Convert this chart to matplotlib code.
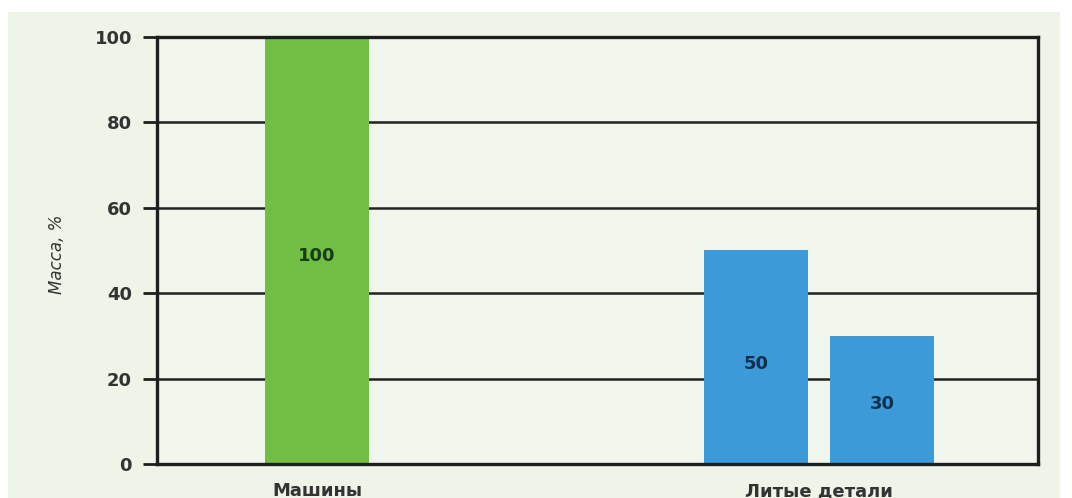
import matplotlib
matplotlib.use("Agg")
import matplotlib.pyplot as plt
from matplotlib.patches import Rectangle

# Data
categories = ["Машины", "Литые детали"]
machines = [100]
castings = [50, 30]
yticks = [0, 20, 40, 60, 80, 100]
ylabel = "Масса, %"

green = "#72bd44"
blue = "#3d9ad8"
panel_bg = "#eef5e8"
ink = "#333333"

fig = plt.figure(figsize=(10.72, 4.98), dpi=100, facecolor="white")

# light panel behind the chart
fig.patches.append(Rectangle((8 / 1072, 0), 1052 / 1072, 486 / 498,
                             transform=fig.transFigure, facecolor=panel_bg,
                             edgecolor="none", zorder=-1))

ax = fig.add_axes([157 / 1072, 34 / 498, 881 / 1072, 427 / 498])
ax.set_zorder(2)
ax.set_facecolor("#f0f6ec")

# bar layout (in bar-width units)
width = 1.0
machines_x = [1.54]
castings_x = [5.76, 6.97]

ax.bar(machines_x, machines, width=width, color=green, zorder=3)
ax.bar(castings_x, castings, width=width, color=blue, zorder=3)

label_kw = dict(ha="center", va="center", fontsize=13, fontweight="bold",
                zorder=4)
for x, v in zip(machines_x, machines):
    ax.text(x, v * 0.487, f"{v}", color="#173d14", **label_kw)
for x, v in zip(castings_x, castings):
    ax.text(x, v * 0.47, f"{v}", color="#10304f", **label_kw)

ax.set_xlim(0, 881 / 104)
ax.set_ylim(0, 100)
ax.set_yticks(yticks)
ax.set_yticklabels([str(t) for t in yticks], fontsize=13, fontweight="bold",
                   color=ink)
ax.set_xticks([machines_x[0], sum(castings_x) / 2])
ax.set_xticklabels(categories, fontsize=13, fontweight="bold", color=ink)
ax.tick_params(axis="x", length=0, pad=13)
ax.tick_params(axis="y", length=10, width=2, color="#1e1e1e", pad=8)

ax.yaxis.grid(True, color="#222222", linewidth=1.8, zorder=1)
ax.set_axisbelow(True)
for side in ["left", "right", "bottom", "top"]:
    ax.spines[side].set_color("#1e1e1e")
    ax.spines[side].set_linewidth(2.4)
    ax.spines[side].set_zorder(5)

fig.text(57 / 1072, 1 - 254 / 498, ylabel, rotation=90, ha="center",
         va="center", fontsize=12, style="italic", color=ink,
         family=["Liberation Sans Narrow", "DejaVu Sans"])

fig.savefig("out.png", dpi=100, facecolor="white")
